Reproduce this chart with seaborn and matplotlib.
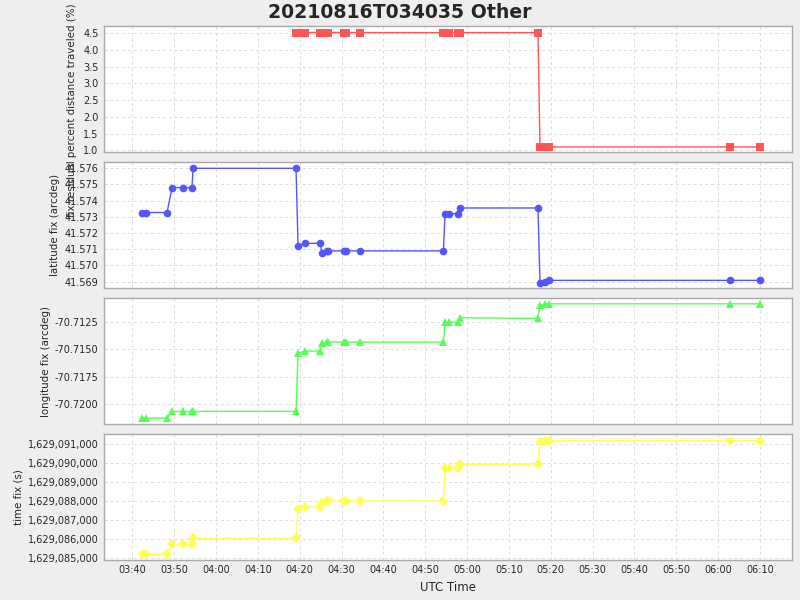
import pandas as pd
import seaborn as sns
import matplotlib.pyplot as plt
import matplotlib.dates as mdates
from matplotlib.ticker import FuncFormatter
import numpy as np

# fix times (UTC, 2021-08-16)
fix_times = ["03:42:13", "03:43:11", "03:48:16", "03:49:28", "03:52:01", "03:54:14", "03:54:29",
             "04:19:06", "04:19:35", "04:21:15", "04:24:56", "04:25:14", "04:26:34", "04:26:51",
             "04:30:34", "04:31:09", "04:34:20", "04:54:20", "04:54:43", "04:55:36", "04:57:49",
             "04:58:18", "05:16:56", "05:17:25", "05:18:43", "05:19:30", "06:02:50", "06:10:00"]

pct_traveled = [np.nan, np.nan, np.nan, np.nan, np.nan, np.nan, np.nan,
                4.52, 4.52, 4.52, 4.52, 4.52, 4.52, 4.52,
                4.52, 4.52, 4.52, 4.52, 4.52, 4.52, 4.52,
                4.52, 4.52, 1.1, 1.1, 1.1, 1.1, 1.1]

lat_fix = [41.57327, 41.57327, 41.57327, 41.57481, 41.57481, 41.57481, 41.57600,
           41.57600, 41.57118, 41.57137, 41.57137, 41.57080, 41.57090, 41.57090,
           41.57090, 41.57090, 41.57090, 41.57090, 41.57320, 41.57320, 41.57320,
           41.57355, 41.57355, 41.56890, 41.56900, 41.56908, 41.56908, 41.56908]

lon_fix = [-70.72128, -70.72128, -70.72128, -70.72067, -70.72067, -70.72067, -70.72067,
           -70.72067, -70.71536, -70.71518, -70.71518, -70.71448, -70.71433, -70.71433,
           -70.71436, -70.71436, -70.71436, -70.71436, -70.71253, -70.71253, -70.71253,
           -70.71214, -70.71220, -70.71099, -70.71087, -70.71087, -70.71087, -70.71087]

time_fix = [1629085209, 1629085209, 1629085209, 1629085733, 1629085733, 1629085733, 1629086047,
            1629086047, 1629087581, 1629087669, 1629087669, 1629087913, 1629088000, 1629088000,
            1629088000, 1629088000, 1629088000, 1629088000, 1629089709, 1629089709, 1629089744,
            1629089919, 1629089919, 1629091070, 1629091157, 1629091157, 1629091157, 1629091157]

pct_ticks = [1.0, 1.5, 2.0, 2.5, 3.0, 3.5, 4.0, 4.5]
lat_ticks = [41.569, 41.570, 41.571, 41.572, 41.573, 41.574, 41.575, 41.576]
lon_ticks = [-70.7200, -70.7175, -70.7150, -70.7125]
time_ticks = [1629085000, 1629086000, 1629087000, 1629088000, 1629089000, 1629090000, 1629091000]

df = pd.DataFrame({
    "utc": pd.to_datetime(["2021-08-16 " + t for t in fix_times]),
    "pct": pct_traveled,
    "lat": lat_fix,
    "lon": lon_fix,
    "tfix": time_fix,
})

sns.set_style("white")
plt.rcParams['font.family'] = ['DejaVu Sans']

fig = plt.figure(figsize=(8, 6), dpi=100)
fig.patch.set_facecolor('#eeeeee')

# panel boxes in figure coords
boxes = [(0.13, 0.7462, 0.86, 0.21),
         (0.13, 0.52, 0.86, 0.2095),
         (0.13, 0.2933, 0.86, 0.2095),
         (0.13, 0.0672, 0.86, 0.209)]

panels = [
    ("pct", "fix residual percent distance traveled (%)", "#ff5555", "s", pct_ticks, (0.94, 4.71), lambda v, p: f"{v:.1f}"),
    ("lat", "latitude fix (arcdeg)", "#5555ff", "o", lat_ticks, (41.56861, 41.57637), lambda v, p: f"{v:.3f}"),
    ("lon", "longitude fix (arcdeg)", "#55ff55", "^", lon_ticks, (-70.72182, -70.71037), lambda v, p: f"{v:.4f}"),
    ("tfix", "time fix (s)", "#ffff55", "D", time_ticks, (1629084927, 1629091492), lambda v, p: f"{v:,.0f}"),
]

xmin = pd.Timestamp("2021-08-16 03:33:12")
xmax = pd.Timestamp("2021-08-16 06:17:39")

axes = []
for box, (col, label, color, mk, ticks, ylim, fmt) in zip(boxes, panels):
    ax = fig.add_axes(box)
    axes.append(ax)
    ax.set_facecolor('white')
    sns.lineplot(data=df, x="utc", y=col, ax=ax, color=color, marker=mk,
                 markersize=5.5 if mk != "D" else 4.8, markeredgewidth=0,
                 linewidth=1, estimator=None, sort=False)
    ax.set_xlim(xmin, xmax)
    ax.set_ylim(*ylim)
    ax.set_yticks(ticks)
    ax.yaxis.set_major_formatter(FuncFormatter(fmt))
    ax.xaxis.set_major_locator(mdates.MinuteLocator(byminute=range(0, 60, 10)))
    ax.xaxis.set_major_formatter(mdates.DateFormatter("%H:%M"))
    ax.grid(True, color='#dcdcdc', linestyle=(0, (3, 3)), linewidth=0.7)
    ax.tick_params(axis='both', labelsize=7, length=2, width=0.8, color='#888888', pad=2)
    for s in ax.spines.values():
        s.set_color('#aaaaaa')
        s.set_linewidth(1)
    ax.set_ylabel(label, fontsize=7.4, labelpad=3)
    ax.set_xlabel("")

for ax in axes[:-1]:
    ax.tick_params(axis='x', labelbottom=False)

# the long top label runs past its panel, as in the original
axes[0].yaxis.set_label_coords(-0.039, 0.336)

axes[-1].set_xlabel("UTC Time", fontsize=8.5, labelpad=4)

fig.suptitle("20210816T034035 Other", fontsize=13.6, fontweight='bold', x=0.5, y=0.98, va='center')

fig.savefig("out.png", dpi=100, facecolor=fig.get_facecolor())
